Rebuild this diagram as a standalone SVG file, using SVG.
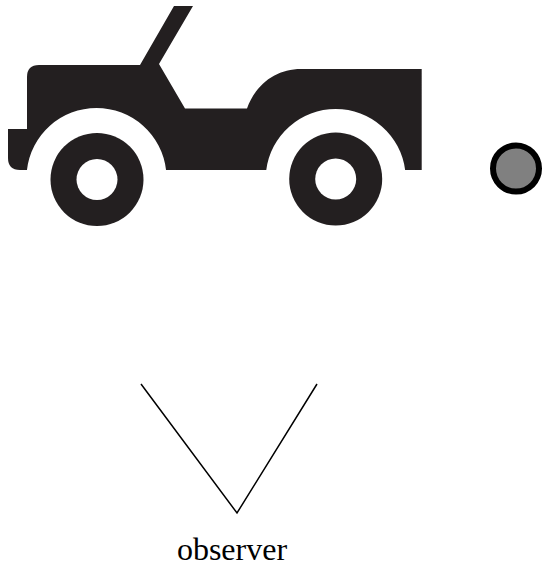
<svg xmlns="http://www.w3.org/2000/svg" width="542" height="564" viewBox="0 0 542 564">
<style>
.k{fill:#231f20}
.h{fill:#fff}
.v{fill:none;stroke:#000;stroke-width:1.5}
text{font-family:"Liberation Serif","Times New Roman",serif;font-size:32px;fill:#000}
</style>
<rect width="542" height="564" fill="#fff"/>
<g id="jeep">
<path class="k" d="M174 6H193L159 64L185 108.500H247C256 84 276 69 301 69H421.700V170H405.120A70 70 0 0 0 266.280 170H166.040A70 70 0 0 0 26.960 170H20Q8 170 8 158V129H27V77Q27 65 39 65H140Z"/>
<circle class="k" cx="97" cy="179.500" r="46.500"/>
<circle class="h" cx="97" cy="179.500" r="20.500"/>
<circle class="k" cx="335.700" cy="179" r="46.500"/>
<circle class="h" cx="335.700" cy="179" r="20.500"/>
</g>
<g id="ball"><circle cx="516" cy="168.500" r="23" fill="#808080" stroke="#000" stroke-width="6"/></g>
<g id="observer">
<path class="v" d="M141 384L237 513L317 384"/>
<text x="232" y="559.500" text-anchor="middle">observer</text>
</g>
</svg>
